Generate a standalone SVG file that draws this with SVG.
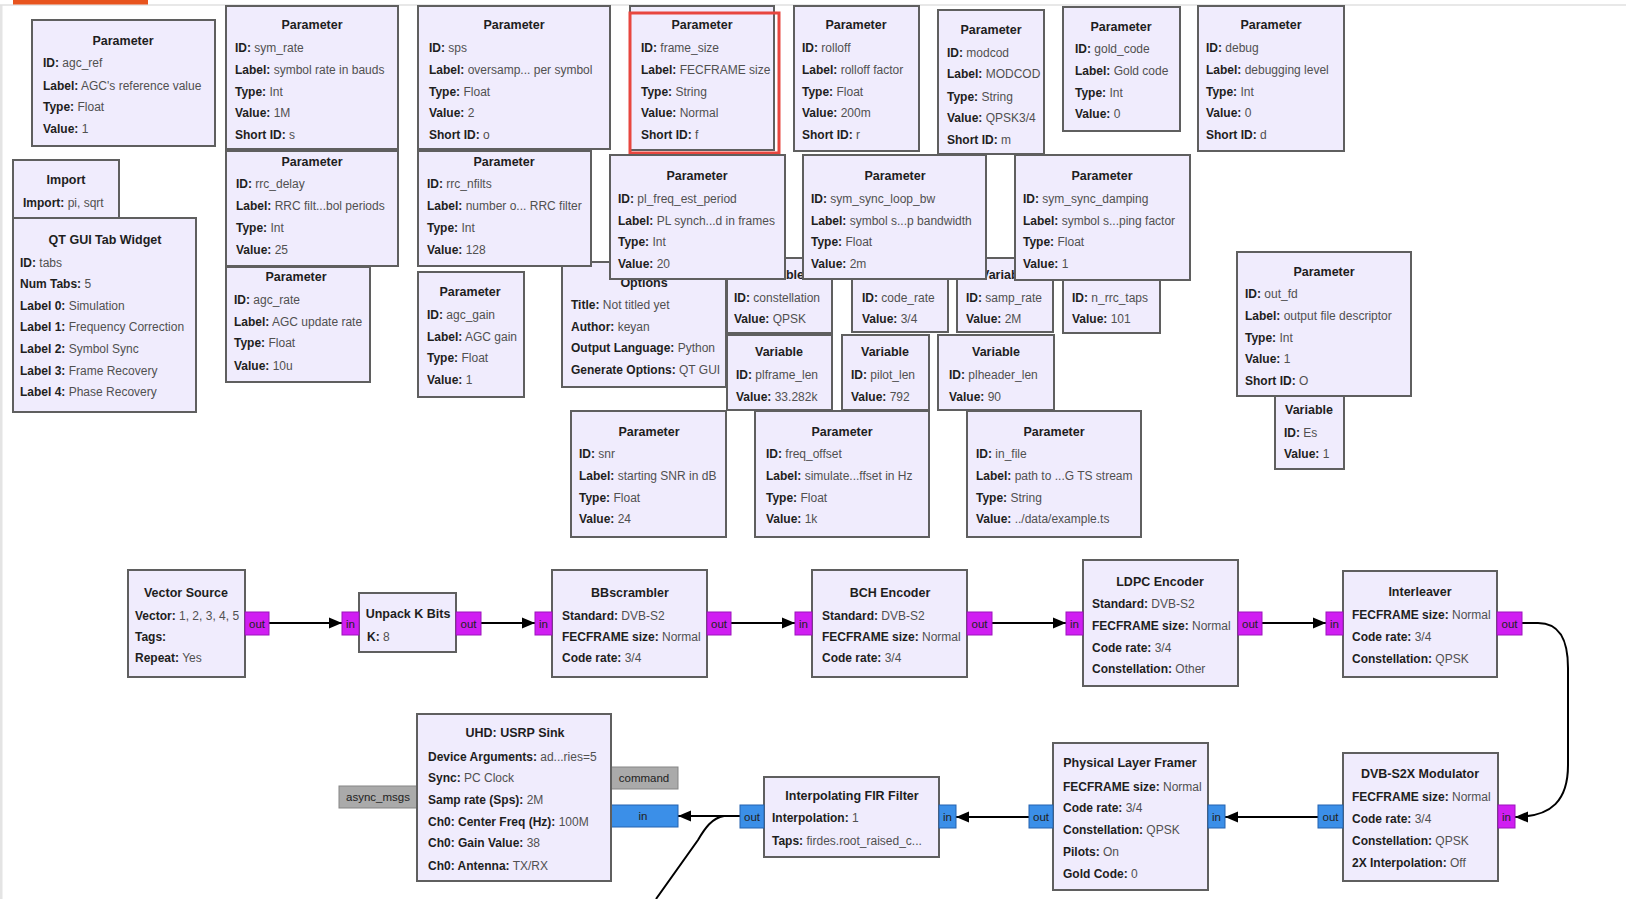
<svg xmlns="http://www.w3.org/2000/svg" width="1626" height="899" viewBox="0 0 1626 899">
<style>
.b{fill:#f0ecfd;stroke:#5f5f5f;stroke-width:2}
.t{font-family:"Liberation Sans",Arial,sans-serif;font-size:12.5px;font-weight:bold;fill:#1e1e1e;text-anchor:middle}
.l{font-family:"Liberation Sans",Arial,sans-serif;font-size:12px;fill:#505050}
.k{font-weight:bold;fill:#1e1e1e}
.pm{fill:#d01ef2;stroke:#9c14bc;stroke-width:1}
.pb{fill:#3b8fe8;stroke:#2463b0;stroke-width:1}
.pg{fill:#aaaaaa;stroke:#858585;stroke-width:1}
.pt{font-family:"Liberation Sans",Arial,sans-serif;font-size:11.5px;fill:#222;text-anchor:middle}
.c{fill:none;stroke:#000;stroke-width:2}
</style>
<defs>
<marker id="ah" markerUnits="userSpaceOnUse" markerWidth="14" markerHeight="12" refX="13" refY="6" orient="auto"><path d="M0,0.5 L13,6 L0,11.5 z" fill="#000"/></marker>
</defs>
<rect x="0" y="0" width="1626" height="899" fill="#ffffff"/>
<rect x="0" y="5" width="2.5" height="894" fill="#e4e4e4"/>
<line x1="0" y1="5" x2="1626" y2="5" stroke="#e0e0e0" stroke-width="1.5"/>
<rect x="13" y="0" width="135" height="4.5" fill="#e8541e"/>

<g id="p_agc_ref"><rect class="b" x="32" y="20" width="183" height="126"/><text class="t" x="123" y="45">Parameter</text><text class="l" x="43" y="67"><tspan class="k">ID:</tspan> agc_ref</text><text class="l" x="43" y="90"><tspan class="k">Label:</tspan> AGC's reference value</text><text class="l" x="43" y="111"><tspan class="k">Type:</tspan> Float</text><text class="l" x="43" y="133"><tspan class="k">Value:</tspan> 1</text></g>

<g id="p_sym_rate"><rect class="b" x="226" y="6" width="172" height="143"/><text class="t" x="312" y="29">Parameter</text><text class="l" x="235" y="52"><tspan class="k">ID:</tspan> sym_rate</text><text class="l" x="235" y="74"><tspan class="k">Label:</tspan> symbol rate in bauds</text><text class="l" x="235" y="96"><tspan class="k">Type:</tspan> Int</text><text class="l" x="235" y="117"><tspan class="k">Value:</tspan> 1M</text><text class="l" x="235" y="139"><tspan class="k">Short ID:</tspan> s</text></g>

<g id="p_sps"><rect class="b" x="418" y="6" width="192" height="143"/><text class="t" x="514" y="29">Parameter</text><text class="l" x="429" y="52"><tspan class="k">ID:</tspan> sps</text><text class="l" x="429" y="74"><tspan class="k">Label:</tspan> oversamp... per symbol</text><text class="l" x="429" y="96"><tspan class="k">Type:</tspan> Float</text><text class="l" x="429" y="117"><tspan class="k">Value:</tspan> 2</text><text class="l" x="429" y="139"><tspan class="k">Short ID:</tspan> o</text></g>

<g id="p_frame_size"><rect class="b" x="630" y="6" width="144" height="144"/><text class="t" x="702" y="29">Parameter</text><text class="l" x="641" y="52"><tspan class="k">ID:</tspan> frame_size</text><text class="l" x="641" y="74"><tspan class="k">Label:</tspan> FECFRAME size</text><text class="l" x="641" y="96"><tspan class="k">Type:</tspan> String</text><text class="l" x="641" y="117"><tspan class="k">Value:</tspan> Normal</text><text class="l" x="641" y="139"><tspan class="k">Short ID:</tspan> f</text><rect x="630" y="13" width="149" height="140" fill="none" stroke="#e8463f" stroke-width="3"/></g>

<g id="p_rolloff"><rect class="b" x="794" y="6" width="125" height="145"/><text class="t" x="856" y="29">Parameter</text><text class="l" x="802" y="52"><tspan class="k">ID:</tspan> rolloff</text><text class="l" x="802" y="74"><tspan class="k">Label:</tspan> rolloff factor</text><text class="l" x="802" y="96"><tspan class="k">Type:</tspan> Float</text><text class="l" x="802" y="117"><tspan class="k">Value:</tspan> 200m</text><text class="l" x="802" y="139"><tspan class="k">Short ID:</tspan> r</text></g>

<g id="p_modcod"><rect class="b" x="938" y="10" width="106" height="144"/><text class="t" x="991" y="34">Parameter</text><text class="l" x="947" y="57"><tspan class="k">ID:</tspan> modcod</text><text class="l" x="947" y="78"><tspan class="k">Label:</tspan> MODCOD</text><text class="l" x="947" y="101"><tspan class="k">Type:</tspan> String</text><text class="l" x="947" y="122"><tspan class="k">Value:</tspan> QPSK3/4</text><text class="l" x="947" y="144"><tspan class="k">Short ID:</tspan> m</text></g>

<g id="p_gold_code"><rect class="b" x="1063" y="7" width="117" height="124"/><text class="t" x="1121" y="31">Parameter</text><text class="l" x="1075" y="53"><tspan class="k">ID:</tspan> gold_code</text><text class="l" x="1075" y="75"><tspan class="k">Label:</tspan> Gold code</text><text class="l" x="1075" y="97"><tspan class="k">Type:</tspan> Int</text><text class="l" x="1075" y="118"><tspan class="k">Value:</tspan> 0</text></g>

<g id="p_debug"><rect class="b" x="1198" y="6" width="146" height="145"/><text class="t" x="1271" y="29">Parameter</text><text class="l" x="1206" y="52"><tspan class="k">ID:</tspan> debug</text><text class="l" x="1206" y="74"><tspan class="k">Label:</tspan> debugging level</text><text class="l" x="1206" y="96"><tspan class="k">Type:</tspan> Int</text><text class="l" x="1206" y="117"><tspan class="k">Value:</tspan> 0</text><text class="l" x="1206" y="139"><tspan class="k">Short ID:</tspan> d</text></g>

<g id="import"><rect class="b" x="13" y="160" width="106" height="58"/><text class="t" x="66" y="184">Import</text><text class="l" x="23" y="207"><tspan class="k">Import:</tspan> pi, sqrt</text></g>

<g id="qtgui_tab_widget"><rect class="b" x="13" y="218" width="183" height="194"/><text class="t" x="105" y="244">QT GUI Tab Widget</text><text class="l" x="20" y="267"><tspan class="k">ID:</tspan> tabs</text><text class="l" x="20" y="288"><tspan class="k">Num Tabs:</tspan> 5</text><text class="l" x="20" y="310"><tspan class="k">Label 0:</tspan> Simulation</text><text class="l" x="20" y="331"><tspan class="k">Label 1:</tspan> Frequency Correction</text><text class="l" x="20" y="353"><tspan class="k">Label 2:</tspan> Symbol Sync</text><text class="l" x="20" y="375"><tspan class="k">Label 3:</tspan> Frame Recovery</text><text class="l" x="20" y="396"><tspan class="k">Label 4:</tspan> Phase Recovery</text></g>

<g id="options"><rect class="b" x="562" y="262" width="164" height="125"/><text class="t" x="644" y="287">Options</text><text class="l" x="571" y="309"><tspan class="k">Title:</tspan> Not titled yet</text><text class="l" x="571" y="331"><tspan class="k">Author:</tspan> keyan</text><text class="l" x="571" y="352"><tspan class="k">Output Language:</tspan> Python</text><text class="l" x="571" y="374"><tspan class="k">Generate Options:</tspan> QT GUI</text></g>

<g id="v_constellation"><rect class="b" x="727" y="258" width="105" height="75"/><text class="t" x="780" y="279">Variable</text><text class="l" x="734" y="302"><tspan class="k">ID:</tspan> constellation</text><text class="l" x="734" y="323"><tspan class="k">Value:</tspan> QPSK</text></g>
<g id="v_code_rate"><rect class="b" x="852" y="258" width="96" height="74"/><text class="l" x="862" y="302"><tspan class="k">ID:</tspan> code_rate</text><text class="l" x="862" y="323"><tspan class="k">Value:</tspan> 3/4</text></g>
<g id="v_samp_rate"><rect class="b" x="957" y="258" width="96" height="74"/><text class="t" x="1005" y="279">Variable</text><text class="l" x="966" y="302"><tspan class="k">ID:</tspan> samp_rate</text><text class="l" x="966" y="323"><tspan class="k">Value:</tspan> 2M</text></g>
<g id="v_n_rrc_taps"><rect class="b" x="1063" y="258" width="97" height="75"/><text class="l" x="1072" y="302"><tspan class="k">ID:</tspan> n_rrc_taps</text><text class="l" x="1072" y="323"><tspan class="k">Value:</tspan> 101</text></g>

<g id="p_rrc_delay"><rect class="b" x="226" y="151" width="172" height="115"/><text class="t" x="312" y="166">Parameter</text><text class="l" x="236" y="188"><tspan class="k">ID:</tspan> rrc_delay</text><text class="l" x="236" y="210"><tspan class="k">Label:</tspan> RRC filt...bol periods</text><text class="l" x="236" y="232"><tspan class="k">Type:</tspan> Int</text><text class="l" x="236" y="254"><tspan class="k">Value:</tspan> 25</text></g>

<g id="p_rrc_nfilts"><rect class="b" x="418" y="151" width="173" height="115"/><text class="t" x="504" y="166">Parameter</text><text class="l" x="427" y="188"><tspan class="k">ID:</tspan> rrc_nfilts</text><text class="l" x="427" y="210"><tspan class="k">Label:</tspan> number o... RRC filter</text><text class="l" x="427" y="232"><tspan class="k">Type:</tspan> Int</text><text class="l" x="427" y="254"><tspan class="k">Value:</tspan> 128</text></g>

<g id="p_agc_rate"><rect class="b" x="226" y="267" width="144" height="115"/><text class="t" x="296" y="281">Parameter</text><text class="l" x="234" y="304"><tspan class="k">ID:</tspan> agc_rate</text><text class="l" x="234" y="326"><tspan class="k">Label:</tspan> AGC update rate</text><text class="l" x="234" y="347"><tspan class="k">Type:</tspan> Float</text><text class="l" x="234" y="370"><tspan class="k">Value:</tspan> 10u</text></g>

<g id="p_agc_gain"><rect class="b" x="418" y="272" width="106" height="125"/><text class="t" x="470" y="296">Parameter</text><text class="l" x="427" y="319"><tspan class="k">ID:</tspan> agc_gain</text><text class="l" x="427" y="341"><tspan class="k">Label:</tspan> AGC gain</text><text class="l" x="427" y="362"><tspan class="k">Type:</tspan> Float</text><text class="l" x="427" y="384"><tspan class="k">Value:</tspan> 1</text></g>

<g id="p_pl_freq_est_period"><rect class="b" x="610" y="155" width="175" height="124"/><text class="t" x="697" y="180">Parameter</text><text class="l" x="618" y="203"><tspan class="k">ID:</tspan> pl_freq_est_period</text><text class="l" x="618" y="225"><tspan class="k">Label:</tspan> PL synch...d in frames</text><text class="l" x="618" y="246"><tspan class="k">Type:</tspan> Int</text><text class="l" x="618" y="268"><tspan class="k">Value:</tspan> 20</text></g>

<g id="p_sym_sync_loop_bw"><rect class="b" x="803" y="155" width="183" height="124"/><text class="t" x="895" y="180">Parameter</text><text class="l" x="811" y="203"><tspan class="k">ID:</tspan> sym_sync_loop_bw</text><text class="l" x="811" y="225"><tspan class="k">Label:</tspan> symbol s...p bandwidth</text><text class="l" x="811" y="246"><tspan class="k">Type:</tspan> Float</text><text class="l" x="811" y="268"><tspan class="k">Value:</tspan> 2m</text></g>

<g id="p_sym_sync_damping"><rect class="b" x="1015" y="155" width="175" height="125"/><text class="t" x="1102" y="180">Parameter</text><text class="l" x="1023" y="203"><tspan class="k">ID:</tspan> sym_sync_damping</text><text class="l" x="1023" y="225"><tspan class="k">Label:</tspan> symbol s...ping factor</text><text class="l" x="1023" y="246"><tspan class="k">Type:</tspan> Float</text><text class="l" x="1023" y="268"><tspan class="k">Value:</tspan> 1</text></g>

<g id="v_plframe_len"><rect class="b" x="727" y="335" width="105" height="75"/><text class="t" x="779" y="356">Variable</text><text class="l" x="736" y="379"><tspan class="k">ID:</tspan> plframe_len</text><text class="l" x="736" y="401"><tspan class="k">Value:</tspan> 33.282k</text></g>
<g id="v_pilot_len"><rect class="b" x="842" y="335" width="87" height="75"/><text class="t" x="885" y="356">Variable</text><text class="l" x="851" y="379"><tspan class="k">ID:</tspan> pilot_len</text><text class="l" x="851" y="401"><tspan class="k">Value:</tspan> 792</text></g>
<g id="v_plheader_len"><rect class="b" x="938" y="335" width="116" height="75"/><text class="t" x="996" y="356">Variable</text><text class="l" x="949" y="379"><tspan class="k">ID:</tspan> plheader_len</text><text class="l" x="949" y="401"><tspan class="k">Value:</tspan> 90</text></g>

<g id="p_snr"><rect class="b" x="571" y="411" width="155" height="126"/><text class="t" x="649" y="436">Parameter</text><text class="l" x="579" y="458"><tspan class="k">ID:</tspan> snr</text><text class="l" x="579" y="480"><tspan class="k">Label:</tspan> starting SNR in dB</text><text class="l" x="579" y="502"><tspan class="k">Type:</tspan> Float</text><text class="l" x="579" y="523"><tspan class="k">Value:</tspan> 24</text></g>

<g id="p_freq_offset"><rect class="b" x="755" y="411" width="174" height="126"/><text class="t" x="842" y="436">Parameter</text><text class="l" x="766" y="458"><tspan class="k">ID:</tspan> freq_offset</text><text class="l" x="766" y="480"><tspan class="k">Label:</tspan> simulate...ffset in Hz</text><text class="l" x="766" y="502"><tspan class="k">Type:</tspan> Float</text><text class="l" x="766" y="523"><tspan class="k">Value:</tspan> 1k</text></g>

<g id="p_in_file"><rect class="b" x="967" y="411" width="174" height="126"/><text class="t" x="1054" y="436">Parameter</text><text class="l" x="976" y="458"><tspan class="k">ID:</tspan> in_file</text><text class="l" x="976" y="480"><tspan class="k">Label:</tspan> path to ...G TS stream</text><text class="l" x="976" y="502"><tspan class="k">Type:</tspan> String</text><text class="l" x="976" y="523"><tspan class="k">Value:</tspan> ../data/example.ts</text></g>

<g id="p_out_fd"><rect class="b" x="1237" y="252" width="174" height="144"/><text class="t" x="1324" y="276">Parameter</text><text class="l" x="1245" y="298"><tspan class="k">ID:</tspan> out_fd</text><text class="l" x="1245" y="320"><tspan class="k">Label:</tspan> output file descriptor</text><text class="l" x="1245" y="342"><tspan class="k">Type:</tspan> Int</text><text class="l" x="1245" y="363"><tspan class="k">Value:</tspan> 1</text><text class="l" x="1245" y="385"><tspan class="k">Short ID:</tspan> O</text></g>

<g id="v_Es"><rect class="b" x="1275" y="396" width="69" height="73"/><text class="t" x="1309" y="414">Variable</text><text class="l" x="1284" y="437"><tspan class="k">ID:</tspan> Es</text><text class="l" x="1284" y="458"><tspan class="k">Value:</tspan> 1</text></g>

<g id="connectors">
<line class="c" x1="269" y1="623" x2="342" y2="623" marker-end="url(#ah)"/>
<line class="c" x1="481" y1="623" x2="535" y2="623" marker-end="url(#ah)"/>
<line class="c" x1="731" y1="623" x2="795" y2="623" marker-end="url(#ah)"/>
<line class="c" x1="992" y1="623" x2="1066" y2="623" marker-end="url(#ah)"/>
<line class="c" x1="1262" y1="623" x2="1326" y2="623" marker-end="url(#ah)"/>
<path class="c" d="M1522,623 L1538,623 C1560,623 1568,640 1568,668 L1568,765 C1568,800 1552,817 1515,817" marker-end="url(#ah)"/>
<line class="c" x1="1318" y1="817" x2="1225" y2="817" marker-end="url(#ah)"/>
<line class="c" x1="1029" y1="817" x2="956" y2="817" marker-end="url(#ah)"/>
<line class="c" x1="740" y1="816" x2="678" y2="816" marker-end="url(#ah)"/>
<path class="c" d="M740,816 L724,816 C712,818 705,828 698,840 L656,899"/>
</g>

<g id="vector_source"><rect class="b" x="128" y="570" width="117" height="107"/><text class="t" x="186" y="597">Vector Source</text><text class="l" x="135" y="620"><tspan class="k">Vector:</tspan> 1, 2, 3, 4, 5</text><text class="l" x="135" y="641"><tspan class="k">Tags:</tspan></text><text class="l" x="135" y="662"><tspan class="k">Repeat:</tspan> Yes</text><rect class="pm" x="245" y="612" width="24" height="23"/><text class="pt" x="257" y="628">out</text></g>

<g id="unpack_k_bits"><rect class="b" x="359" y="593" width="97" height="59"/><text class="t" x="408" y="618">Unpack K Bits</text><text class="l" x="367" y="641"><tspan class="k">K:</tspan> 8</text><rect class="pm" x="342" y="612" width="17" height="23"/><text class="pt" x="350.5" y="628">in</text><rect class="pm" x="456" y="612" width="25" height="23"/><text class="pt" x="468.5" y="628">out</text></g>

<g id="bbscrambler"><rect class="b" x="552" y="570" width="155" height="107"/><text class="t" x="630" y="597">BBscrambler</text><text class="l" x="562" y="620"><tspan class="k">Standard:</tspan> DVB-S2</text><text class="l" x="562" y="641"><tspan class="k">FECFRAME size:</tspan> Normal</text><text class="l" x="562" y="662"><tspan class="k">Code rate:</tspan> 3/4</text><rect class="pm" x="535" y="612" width="17" height="23"/><text class="pt" x="543.5" y="628">in</text><rect class="pm" x="707" y="612" width="24" height="23"/><text class="pt" x="719" y="628">out</text></g>

<g id="bch_encoder"><rect class="b" x="812" y="570" width="155" height="107"/><text class="t" x="890" y="597">BCH Encoder</text><text class="l" x="822" y="620"><tspan class="k">Standard:</tspan> DVB-S2</text><text class="l" x="822" y="641"><tspan class="k">FECFRAME size:</tspan> Normal</text><text class="l" x="822" y="662"><tspan class="k">Code rate:</tspan> 3/4</text><rect class="pm" x="795" y="612" width="17" height="23"/><text class="pt" x="803.5" y="628">in</text><rect class="pm" x="967" y="612" width="25" height="23"/><text class="pt" x="979.5" y="628">out</text></g>

<g id="ldpc_encoder"><rect class="b" x="1083" y="560" width="155" height="126"/><text class="t" x="1160" y="586">LDPC Encoder</text><text class="l" x="1092" y="608"><tspan class="k">Standard:</tspan> DVB-S2</text><text class="l" x="1092" y="630"><tspan class="k">FECFRAME size:</tspan> Normal</text><text class="l" x="1092" y="652"><tspan class="k">Code rate:</tspan> 3/4</text><text class="l" x="1092" y="673"><tspan class="k">Constellation:</tspan> Other</text><rect class="pm" x="1066" y="612" width="17" height="23"/><text class="pt" x="1074.5" y="628">in</text><rect class="pm" x="1238" y="612" width="24" height="23"/><text class="pt" x="1250" y="628">out</text></g>

<g id="interleaver"><rect class="b" x="1343" y="571" width="154" height="106"/><text class="t" x="1420" y="596">Interleaver</text><text class="l" x="1352" y="619"><tspan class="k">FECFRAME size:</tspan> Normal</text><text class="l" x="1352" y="641"><tspan class="k">Code rate:</tspan> 3/4</text><text class="l" x="1352" y="663"><tspan class="k">Constellation:</tspan> QPSK</text><rect class="pm" x="1326" y="612" width="17" height="23"/><text class="pt" x="1334.5" y="628">in</text><rect class="pm" x="1497" y="612" width="25" height="23"/><text class="pt" x="1509.5" y="628">out</text></g>

<g id="dvbs2x_modulator"><rect class="b" x="1343" y="753" width="155" height="128"/><text class="t" x="1420" y="778">DVB-S2X Modulator</text><text class="l" x="1352" y="801"><tspan class="k">FECFRAME size:</tspan> Normal</text><text class="l" x="1352" y="823"><tspan class="k">Code rate:</tspan> 3/4</text><text class="l" x="1352" y="845"><tspan class="k">Constellation:</tspan> QPSK</text><text class="l" x="1352" y="867"><tspan class="k">2X Interpolation:</tspan> Off</text><rect class="pm" x="1498" y="805" width="17" height="23"/><text class="pt" x="1506.5" y="821">in</text><rect class="pb" x="1318" y="805" width="25" height="23"/><text class="pt" x="1330.5" y="821">out</text></g>

<g id="physical_layer_framer"><rect class="b" x="1053" y="743" width="155" height="147"/><text class="t" x="1130" y="767">Physical Layer Framer</text><text class="l" x="1063" y="791"><tspan class="k">FECFRAME size:</tspan> Normal</text><text class="l" x="1063" y="812"><tspan class="k">Code rate:</tspan> 3/4</text><text class="l" x="1063" y="834"><tspan class="k">Constellation:</tspan> QPSK</text><text class="l" x="1063" y="856"><tspan class="k">Pilots:</tspan> On</text><text class="l" x="1063" y="878"><tspan class="k">Gold Code:</tspan> 0</text><rect class="pb" x="1208" y="805" width="17" height="23"/><text class="pt" x="1216.5" y="821">in</text><rect class="pb" x="1029" y="805" width="24" height="23"/><text class="pt" x="1041" y="821">out</text></g>

<g id="interp_fir_filter"><rect class="b" x="764" y="777" width="175" height="80"/><text class="t" x="852" y="800">Interpolating FIR Filter</text><text class="l" x="772" y="822"><tspan class="k">Interpolation:</tspan> 1</text><text class="l" x="772" y="845"><tspan class="k">Taps:</tspan> firdes.root_raised_c...</text><rect class="pb" x="939" y="805" width="17" height="23"/><text class="pt" x="947.5" y="821">in</text><rect class="pb" x="740" y="805" width="24" height="23"/><text class="pt" x="752" y="821">out</text></g>

<g id="uhd_usrp_sink"><rect class="pg" x="339" y="786" width="78" height="22"/><text class="pt" x="378" y="801" fill="#333">async_msgs</text><rect class="pg" x="611" y="767" width="67" height="22"/><text class="pt" x="644" y="782" fill="#333">command</text><rect class="pb" x="611" y="805" width="67" height="22"/><text class="pt" x="643" y="820">in</text><rect class="b" x="417" y="714" width="194" height="167"/><text class="t" x="515" y="737">UHD: USRP Sink</text><text class="l" x="428" y="761"><tspan class="k">Device Arguments:</tspan> ad...ries=5</text><text class="l" x="428" y="782"><tspan class="k">Sync:</tspan> PC Clock</text><text class="l" x="428" y="804"><tspan class="k">Samp rate (Sps):</tspan> 2M</text><text class="l" x="428" y="826"><tspan class="k">Ch0: Center Freq (Hz):</tspan> 100M</text><text class="l" x="428" y="847"><tspan class="k">Ch0: Gain Value:</tspan> 38</text><text class="l" x="428" y="870"><tspan class="k">Ch0: Antenna:</tspan> TX/RX</text></g>
</svg>
